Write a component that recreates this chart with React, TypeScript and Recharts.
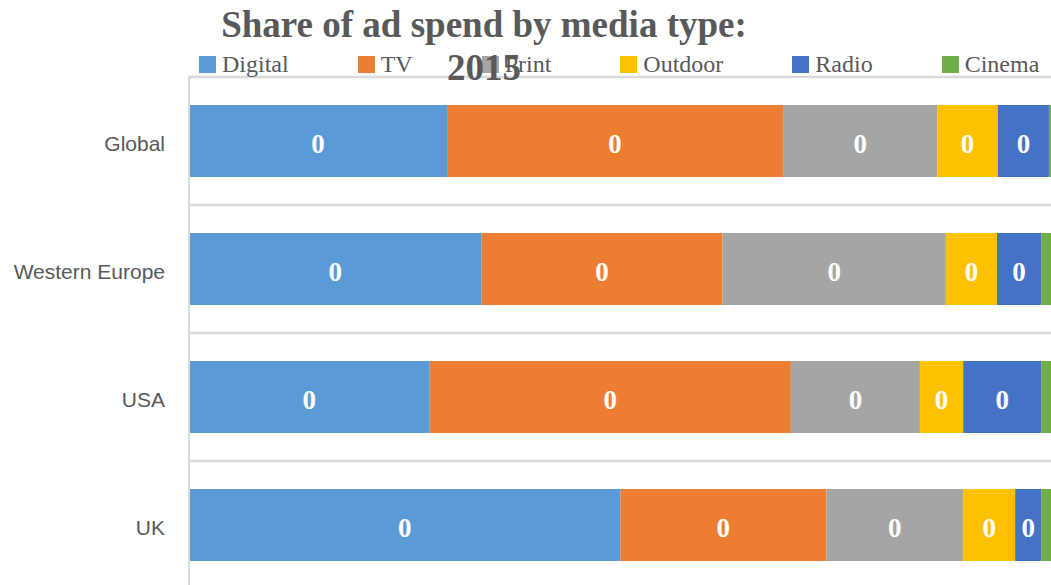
import React from 'react';
import { BarChart, Bar, XAxis, YAxis, CartesianGrid, LabelList, Legend } from 'recharts';

const categories = ['Global', 'Western Europe', 'USA', 'UK'];
const seriesNames = ['Digital', 'TV', 'Print', 'Outdoor', 'Radio', 'Cinema'];
const digital = [0.298, 0.338, 0.278, 0.498];
const tv = [0.388, 0.278, 0.417, 0.238];
const print = [0.178, 0.258, 0.149, 0.158];
const outdoor = [0.07, 0.059, 0.05, 0.06];
const radio = [0.059, 0.051, 0.09, 0.03];
const cinema = [0.007, 0.016, 0.016, 0.016];
const seriesColors = ['#5B9BD5', '#ED7D31', '#A5A5A5', '#FFC000', '#4472C4', '#70AD47'];
const labelledSeries = ['Digital', 'TV', 'Print', 'Outdoor', 'Radio'];
const titleText = 'Share of ad spend by media type: 2015';

const seriesValues = [digital, tv, print, outdoor, radio, cinema];

const data = categories.map((category, i) => {
  const row: Record<string, any> = { category };
  seriesNames.forEach((name, s) => {
    row[name] = seriesValues[s][i];
  });
  return row;
});

const gridGenerator = ({ offset }: any) => {
  const n = categories.length;
  return Array.from({ length: n + 1 }, (_, i) => offset.top + (i * offset.height) / n);
};

const renderLegend = () => (
  <div
    style={{
      display: 'flex',
      flexDirection: 'row',
      alignItems: 'center',
      gap: 69,
      whiteSpace: 'nowrap',
      fontFamily: '"Liberation Serif", serif',
      fontSize: 24,
      lineHeight: '24px',
      color: '#595959',
    }}
  >
    {seriesNames.map((name, i) => (
      <div key={name} style={{ display: 'flex', alignItems: 'center' }}>
        <span style={{ display: 'inline-block', width: 17, height: 17, background: seriesColors[i], marginRight: 6 }} />
        <span>{name}</span>
      </div>
    ))}
  </div>
);

export default function App() {
  return (
    <div
      style={{
        position: 'fixed',
        top: 0,
        left: 0,
        width: 1051,
        height: 585,
        overflow: 'hidden',
        background: '#ffffff',
      }}
    >
      <BarChart
        width={1070}
        height={600}
        data={data}
        layout="vertical"
        margin={{ top: 77, right: 15, bottom: 11, left: 0 }}
      >
        <CartesianGrid
          vertical={false}
          horizontal={true}
          stroke="#d9d9d9"
          strokeWidth={2.5}
          horizontalCoordinatesGenerator={gridGenerator}
        />
        <XAxis type="number" domain={[0, 1]} hide />
        <YAxis
          type="category"
          dataKey="category"
          width={189}
          tickLine={false}
          tickSize={0}
          tickMargin={24}
          axisLine={{ stroke: '#d9d9d9', strokeWidth: 2 }}
          tick={{ fill: '#595959', fontSize: 21, dy: 3, fontFamily: '"Liberation Sans", Arial, sans-serif' }}
        />
        <Legend
          layout="horizontal"
          verticalAlign="middle"
          align="center"
          wrapperStyle={{ top: 52, left: 199, width: 'auto', height: 'auto' }}
          content={renderLegend}
        />
        {seriesNames.map((name, i) => (
          <Bar
            key={name}
            dataKey={name}
            stackId="share"
            fill={seriesColors[i]}
            barSize={72}
            isAnimationActive={false}
          >
            {labelledSeries.includes(name) && (
              <LabelList
                dataKey={name}
                position="center"
                fill="#ffffff"
                fontSize={27}
                fontWeight="bold"
                dy={2.5}
                fontFamily='"Liberation Serif", serif'
                formatter={(v: any) => Number(v).toFixed(0)}
              />
            )}
          </Bar>
        ))}
      </BarChart>
      <div
        style={{
          position: 'absolute',
          left: 204,
          top: 3,
          width: 560,
          textAlign: 'center',
          fontFamily: '"Liberation Serif", serif',
          fontWeight: 'bold',
          fontSize: 37,
          lineHeight: '43px',
          color: '#595959',
          zIndex: 10,
          pointerEvents: 'none',
        }}
      >
        {titleText}
      </div>
    </div>
  );
}
